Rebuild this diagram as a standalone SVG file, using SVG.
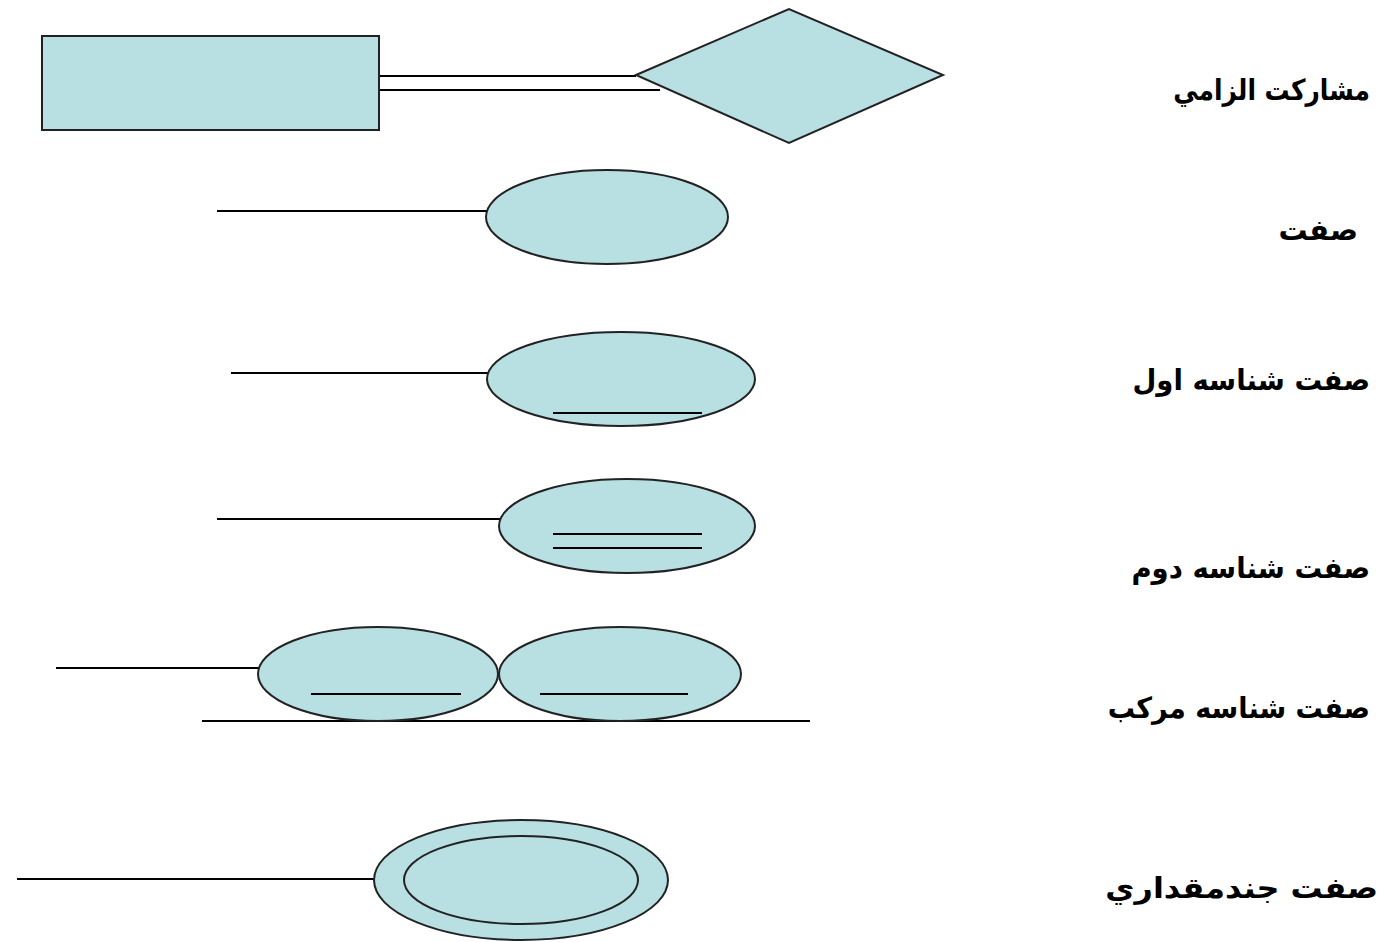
<svg xmlns="http://www.w3.org/2000/svg" width="1386" height="942" viewBox="0 0 1386 942">
<style>
.shape{fill:#b8dfe2;stroke:#222;stroke-width:2}
.ln{stroke:#000;stroke-width:2;fill:none}
.lbl{font-family:"DejaVu Sans",sans-serif;font-weight:bold;font-size:29px;fill:#000;text-anchor:end}
</style>
<rect width="1386" height="942" fill="#fff"/>
<g id="connectors">
<line class="ln" x1="379" y1="76" x2="636" y2="76"/>
<line class="ln" x1="379" y1="90" x2="660" y2="90"/>
<line class="ln" x1="217" y1="211" x2="487" y2="211"/>
<line class="ln" x1="231" y1="373" x2="488" y2="373"/>
<line class="ln" x1="217" y1="519" x2="501" y2="519"/>
<line class="ln" x1="56" y1="668" x2="259" y2="668"/>
<line class="ln" x1="202" y1="721" x2="810" y2="721"/>
<line class="ln" x1="17" y1="879" x2="374" y2="879"/>
</g>
<g id="entity"><rect class="shape" x="42" y="36" width="337" height="94"/></g>
<g id="relationship"><polygon class="shape" points="636,75 789,9 943,75 789,143"/></g>
<g id="attr"><ellipse class="shape" cx="607" cy="217" rx="121" ry="47"/></g>
<g id="key1"><ellipse class="shape" cx="621" cy="379" rx="134" ry="47"/>
<line class="ln" x1="553" y1="413" x2="702" y2="413"/></g>
<g id="key2"><ellipse class="shape" cx="627" cy="526" rx="128" ry="47"/>
<line class="ln" x1="553" y1="534" x2="702" y2="534"/>
<line class="ln" x1="553" y1="548" x2="702" y2="548"/></g>
<g id="compositeA"><ellipse class="shape" cx="378" cy="674" rx="120" ry="47"/>
<line class="ln" x1="311" y1="694" x2="461" y2="694"/></g>
<g id="compositeB"><ellipse class="shape" cx="620" cy="674" rx="121" ry="47"/>
<line class="ln" x1="540" y1="694" x2="688" y2="694"/></g>
<g id="multivalued"><ellipse class="shape" cx="521" cy="880" rx="147" ry="60"/>
<ellipse class="shape" cx="521" cy="880" rx="117" ry="44"/></g>
<g id="labels">
<text class="lbl" transform="translate(1370,100) scale(0.86,1)">مشاركت الزامي</text>
<text class="lbl" transform="translate(1358,240)">صفت</text>
<text class="lbl" transform="translate(1370,390) scale(0.95,1)">صفت شناسه اول</text>
<text class="lbl" transform="translate(1370,578) scale(0.95,1)">صفت شناسه دوم</text>
<text class="lbl" transform="translate(1370,718) scale(0.935,1)">صفت شناسه مركب</text>
<text class="lbl" transform="translate(1378,898) scale(1.1,1)">صفت جندمقداري</text>
</g>
</svg>
